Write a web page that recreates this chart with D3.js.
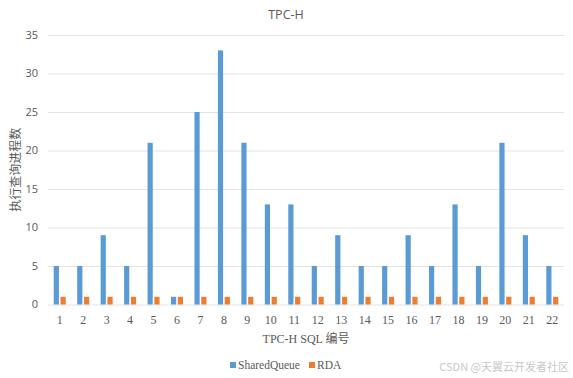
<!DOCTYPE html>
<html>
<head>
<meta charset="utf-8">
<script src="https://cdn.jsdelivr.net/npm/d3@7"></script>
<style>
  body { margin: 0; background: #fff; }
  svg { display: block; }
</style>
</head>
<body>
<div id="chart"></div>
<script>
// chart values
let queries = d3.range(1, 23).map(String);
let sharedQueue = [5, 5, 9, 5, 21, 1, 25, 33, 21, 13, 13, 5, 9, 5, 5, 9, 5, 13, 5, 21, 9, 5];
let rda = [1, 1, 1, 1, 1, 1, 1, 1, 1, 1, 1, 1, 1, 1, 1, 1, 1, 1, 1, 1, 1, 1];
let seriesNames = ["SharedQueue", "RDA"];
let yTicks = [0, 5, 10, 15, 20, 25, 30, 35];

let width = 573, height = 378;
let margin = {top: 35, right: 9, bottom: 73.5, left: 48};
let plotW = width - margin.left - margin.right,
    plotH = height - margin.top - margin.bottom;

let colors = ["#5b9bd5", "#ed7d31"];
let sansFont = "'Open Sans', 'Noto Sans', sans-serif";
let serifFont = "'Liberation Serif', 'Noto Sans CJK SC', serif";

let svg = d3.select("#chart").append("svg")
    .attr("width", width)
    .attr("height", height);

let g = svg.append("g")
    .attr("transform", "translate(" + margin.left + "," + margin.top + ")");

let x = d3.scaleBand().domain(queries).range([0, plotW]);
let y = d3.scaleLinear().domain([0, 35]).range([plotH, 0]);

// grid
g.append("g")
  .selectAll("line")
  .data(yTicks)
  .enter().append("line")
    .attr("x1", 0).attr("x2", plotW)
    .attr("y1", d => y(d) + 0.5).attr("y2", d => y(d) + 0.5)
    .style("stroke", "#e3e3e3")
    .style("stroke-width", 1);

// y tick labels
g.append("g")
  .selectAll("text")
  .data(yTicks)
  .enter().append("text")
    .attr("x", -10)
    .attr("y", d => y(d))
    .attr("dy", "0.35em")
    .attr("text-anchor", "end")
    .style("font-family", sansFont)
    .style("font-size", "11px")
    .style("fill", "#595959")
    .text(d => d);

// bars
let barW = 5.2, gap = 1.6;
let series = [sharedQueue, rda];
series.forEach(function(vals, si){
  g.append("g")
    .selectAll("rect")
    .data(vals)
    .enter().append("rect")
      .attr("x", (d, i) => x(queries[i]) + x.bandwidth() / 2 - barW - gap / 2 + si * (barW + gap))
      .attr("y", d => y(d))
      .attr("width", barW)
      .attr("height", d => y(0) - y(d))
      .style("fill", colors[si]);
});

// x tick labels
g.append("g")
  .selectAll("text")
  .data(queries)
  .enter().append("text")
    .attr("x", d => x(d) + x.bandwidth() / 2)
    .attr("y", plotH + 19)
    .attr("text-anchor", "middle")
    .style("font-family", serifFont)
    .style("font-size", "12px")
    .style("fill", "#595959")
    .text(d => d);

// title
svg.append("text")
  .attr("x", 286).attr("y", 19)
  .attr("text-anchor", "middle")
  .style("font-family", sansFont)
  .style("font-size", "12.5px")
  .style("fill", "#595959")
  .text("TPC-H");

// axis titles
svg.append("text")
  .attr("x", margin.left + plotW / 2).attr("y", 343)
  .attr("text-anchor", "middle")
  .style("font-family", serifFont)
  .style("font-size", "12px")
  .style("fill", "#595959")
  .text("TPC-H SQL 编号");

svg.append("text")
  .attr("transform", "translate(20," + (margin.top + plotH / 2) + ") rotate(-90)")
  .attr("text-anchor", "middle")
  .style("font-family", "'Noto Sans CJK SC', sans-serif")
  .style("font-size", "12px")
  .style("fill", "#595959")
  .text("执行查询进程数");

// legend
let legendX = [230, 309];
let legend = svg.append("g").selectAll("g")
  .data(seriesNames)
  .enter().append("g")
    .attr("transform", (d, i) => "translate(" + legendX[i] + ",362)");
legend.append("rect")
  .attr("width", 6).attr("height", 6)
  .style("fill", (d, i) => colors[i]);
legend.append("text")
  .attr("x", 8).attr("y", 7)
  .style("font-family", serifFont)
  .style("font-size", "11.5px")
  .style("fill", "#595959")
  .text(d => d);

// watermark
svg.append("text")
  .attr("x", 569).attr("y", 371)
  .attr("text-anchor", "end")
  .style("font-family", "'Noto Sans CJK SC', sans-serif")
  .style("font-size", "11px")
  .style("fill", "#c8c8c8")
  .text("CSDN @天翼云开发者社区");
</script>
</body>
</html>
